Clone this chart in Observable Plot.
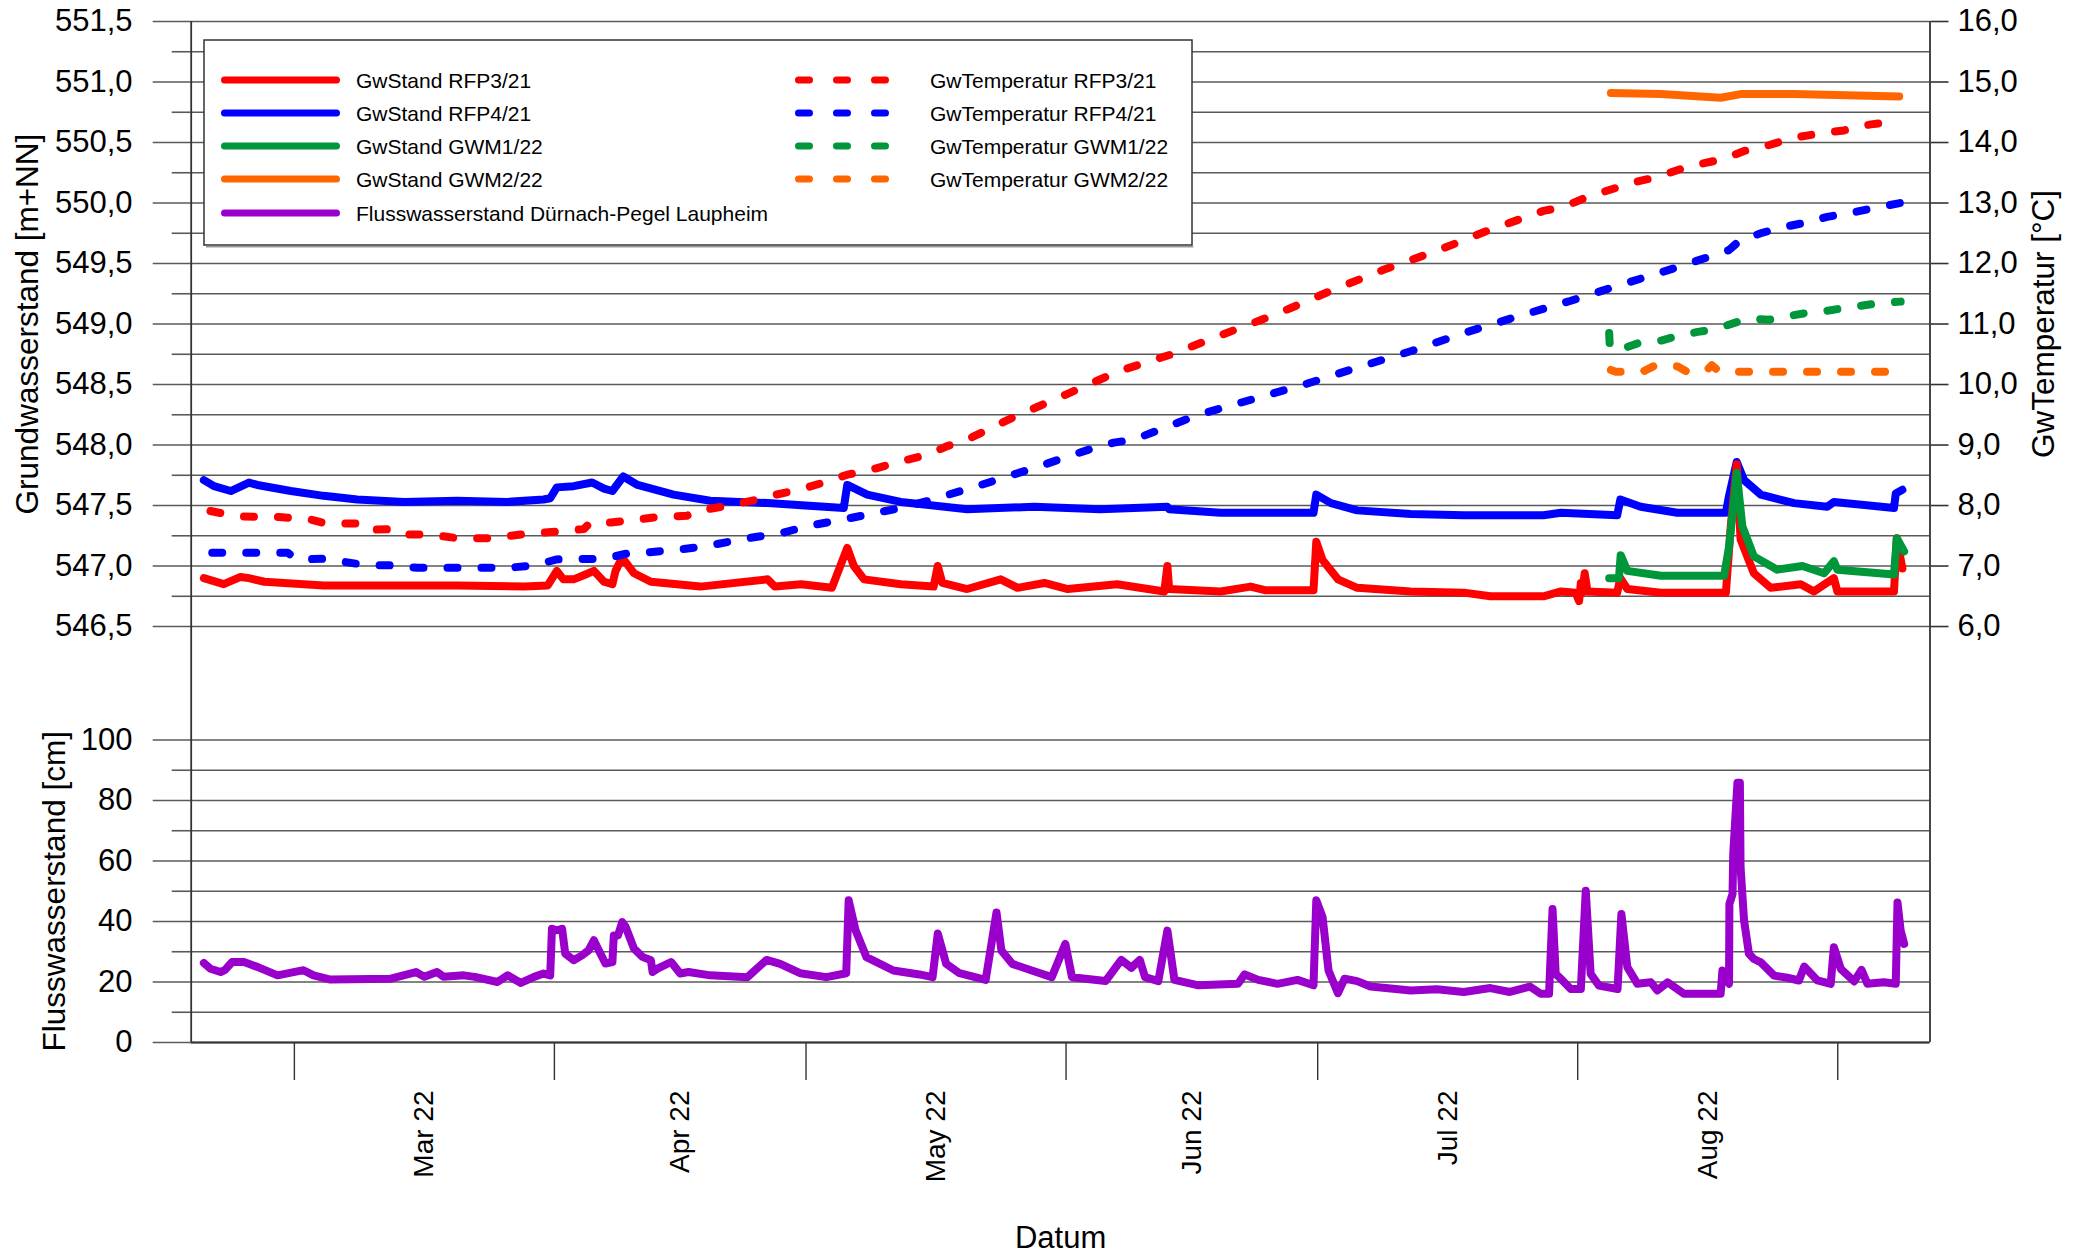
<!DOCTYPE html>
<html lang="de">
<head>
<meta charset="utf-8">
<script src="https://cdn.jsdelivr.net/npm/d3@7"></script>
<script src="https://cdn.jsdelivr.net/npm/@observablehq/plot@0.6"></script>
<style>
  html, body { margin: 0; padding: 0; background: #fff; }
  #wrap { position: relative; width: 2084px; height: 1257px; overflow: hidden; background: #fff;
          font-family: "Liberation Sans", Arial, Helvetica, sans-serif; }
  #chart { position: absolute; left: 0; top: 0; }
  #legend { position: absolute; left: 0; top: 0; pointer-events: none; }
</style>
</head>
<body>
<div id="wrap"><div id="chart"></div><svg id="legend" width="2084" height="1257"></svg></div>
<script>
// ================= DATA =================
// Groundwater level [m+NN] (left axis)  [date "MM-DDTHH" 2022 UTC, value]
const gwStandRFP3 = [
  ["02-18T05",546.90],["02-20T14",546.85],["02-22T14",546.91],["02-23T14",546.90],["02-25T10",546.87],
  ["03-04T12",546.84],["03-12T12",546.84],["03-20T10",546.84],["03-28T10",546.83],["03-31T05",546.84],
  ["04-01T07",546.96],["04-02T02",546.89],["04-03T07",546.89],["04-04T17",546.93],["04-05T17",546.96],
  ["04-06T22",546.87],["04-07T22",546.85],["04-08T07",546.96],["04-09T02",547.07],["04-10T12",546.94],
  ["04-12T12",546.87],["04-18T10",546.83],["04-26T10",546.89],["04-27T07",546.83],["04-30T10",546.85],
  ["05-04T02",546.82],["05-05T22",547.15],["05-06T17",547.00],["05-07T22",546.89],["05-12T07",546.85],
  ["05-16T05",546.83],["05-16T17",547.00],["05-17T06",546.86],["05-20T05",546.81],["05-24T05",546.89],
  ["05-26T05",546.82],["05-29T10",546.86],["06-01T05",546.81],["06-07T02",546.85],["06-12T17",546.79],
  ["06-13T02",547.00],["06-13T07",546.81],["06-19T10",546.79],["06-23T00",546.83],["06-24T17",546.80],
  ["06-30T12",546.80],["06-30T20",547.20],["07-01T14",547.05],["07-03T10",546.89],["07-05T17",546.82],
  ["07-12T02",546.79],["07-18T10",546.78],["07-21T14",546.75],["07-27T22",546.75],["07-30T00",546.79],
  ["07-31T18",546.78],["08-01T04",546.71],["08-01T09",546.86],["08-01T13",546.78],["08-01T20",546.94],
  ["08-02T04",546.79],["08-05T17",546.78],["08-06T02",546.90],["08-06T22",546.81],["08-10T22",546.78],
  ["08-18T16",546.78],["08-19T06",547.33],["08-19T23",547.84],["08-20T10",547.22],["08-22T00",546.94],
  ["08-24T00",546.82],["08-27T14",546.85],["08-29T04",546.79],["08-31T13",546.90],["08-31T23",546.79],
  ["09-07T17",546.79],["09-08T01",547.23],["09-08T17",546.98]
];
const gwStandRFP4 = [
  ["02-18T05",547.71],["02-19T10",547.66],["02-21T10",547.62],["02-23T14",547.69],["02-24T14",547.67],
  ["02-28T14",547.62],["03-04T12",547.58],["03-08T12",547.55],["03-14T02",547.53],["03-20T10",547.54],
  ["03-26T10",547.53],["03-30T17",547.55],["03-31T12",547.56],["04-01T07",547.65],["04-03T07",547.66],
  ["04-05T12",547.69],["04-06T22",547.64],["04-07T22",547.62],["04-09T05",547.74],["04-10T22",547.67],
  ["04-15T05",547.59],["04-19T14",547.54],["04-26T10",547.52],["05-05T12",547.48],["05-05T22",547.67],
  ["05-08T07",547.59],["05-12T07",547.53],["05-20T05",547.47],["05-28T05",547.49],["06-05T02",547.47],
  ["06-13T02",547.49],["06-13T07",547.47],["06-19T10",547.44],["06-30T12",547.44],["06-30T20",547.59],
  ["07-02T14",547.52],["07-05T17",547.46],["07-12T02",547.43],["07-18T10",547.42],["07-27T22",547.42],
  ["07-30T00",547.44],["08-05T17",547.42],["08-06T02",547.55],["08-08T12",547.49],["08-12T21",547.44],
  ["08-18T16",547.44],["08-19T01",547.58],["08-19T23",547.86],["08-20T20",547.71],["08-22T20",547.59],
  ["08-26T19",547.52],["08-30T18",547.49],["08-31T13",547.53],["09-07T17",547.48],["09-07T22",547.60],
  ["09-08T17",547.63]
];
const gwStandGWM1 = [
  ["08-04T18",546.90],["08-05T22",546.90],["08-06T03",547.09],["08-06T22",546.96],["08-10T22",546.92],
  ["08-18T11",546.92],["08-19T01",547.16],["08-19T23",547.77],["08-20T15",547.33],["08-22T00",547.08],
  ["08-24T19",546.97],["08-27T19",547.00],["08-30T09",546.94],["08-31T13",547.04],["08-31T23",546.97],
  ["09-07T17",546.93],["09-08T01",547.23],["09-08T22",547.12]
];
const gwStandGWM2 = [
  ["08-04T23",550.91],["08-10T22",550.90],["08-18T01",550.87],["08-20T10",550.90],["08-26T19",550.90],
  ["09-08T08",550.88]
];

// Groundwater temperature [°C] (right axis)
const gwTempRFP3 = [
  ["02-19T00",7.91],["02-22T05",7.82],["02-27T05",7.81],["03-02T22",7.77],["03-04T12",7.71],
  ["03-09T07",7.70],["03-10T00",7.60],["03-12T22",7.61],["03-14T02",7.52],["03-17T05",7.52],
  ["03-20T10",7.46],["03-24T10",7.46],["03-28T00",7.52],["04-01T07",7.57],["04-04T12",7.61],
  ["04-05T07",7.72],["04-07T17",7.72],["04-10T22",7.77],["04-13T07",7.81],["04-16T19",7.83],
  ["04-18T00",7.91],["04-21T10",7.99],["04-25T05",8.10],["04-27T10",8.18],["04-30T10",8.27],
  ["05-03T02",8.38],["05-05T22",8.51],["05-08T17",8.59],["05-12T07",8.73],["05-15T12",8.84],
  ["05-17T19",8.98],["05-20T05",9.09],["05-25T14",9.45],["05-31T22",9.83],["06-07T07",10.22],
  ["06-13T14",10.50],["06-19T22",10.84],["06-26T05",11.17],["07-02T14",11.55],["07-08T22",11.90],
  ["07-15T05",12.21],["07-21T14",12.56],["07-27T22",12.87],["07-30T09",12.94],["08-02T04",13.10],
  ["08-05T08",13.24],["08-07T22",13.35],["08-10T12",13.43],["08-14T02",13.60],["08-18T11",13.73],
  ["08-20T20",13.86],["08-23T15",13.95],["08-26T19",14.08],["08-30T09",14.16],["09-01T18",14.20],
  ["09-03T08",14.26],["09-04T23",14.30],["09-08T11",14.36]
];
const gwTempRFP4 = [
  ["02-19T05",7.22],["02-23T19",7.22],["02-28T05",7.22],["03-01T07",7.11],["03-04T12",7.12],
  ["03-09T07",7.02],["03-12T22",7.01],["03-15T17",6.97],["03-26T10",6.97],["03-29T14",7.01],
  ["04-01T07",7.11],["04-06T22",7.12],["04-10T02",7.22],["04-11T17",7.22],["04-15T17",7.27],
  ["04-19T05",7.33],["04-23T05",7.44],["04-28T05",7.55],["05-01T05",7.66],["05-03T12",7.72],
  ["05-05T12",7.77],["05-08T07",7.85],["05-12T07",7.96],["05-16T05",8.10],["05-18T00",8.18],
  ["05-21T10",8.32],["05-25T00",8.48],["05-28T05",8.62],["06-01T05",8.81],["06-04T07",8.95],
  ["06-06T17",9.04],["06-09T02",9.09],["06-16T19",9.50],["06-23T02",9.75],["06-29T10",10.00],
  ["07-05T17",10.28],["07-12T02",10.55],["07-18T10",10.85],["07-24T17",11.12],["07-31T02",11.38],
  ["08-06T10",11.66],["08-12T17",11.93],["08-19T00",12.22],["08-20T10",12.39],["08-22T20",12.50],
  ["08-24T19",12.58],["08-27T14",12.66],["08-30T18",12.77],["09-02T23",12.85],["09-06T03",12.94],
  ["09-08T12",13.00]
];
const gwTempGWM1 = [
  ["08-04T18",10.85],["08-04T20",10.60],["08-05T22",10.57],["08-08T03",10.68],["08-10T12",10.71],
  ["08-12T21",10.80],["08-15T07",10.87],["08-17T06",10.91],["08-18T20",10.98],["08-21T06",11.09],
  ["08-23T19",11.07],["08-25T05",11.11],["08-28T04",11.18],["08-30T18",11.22],["09-02T13",11.28],
  ["09-05T18",11.34],["09-08T12",11.37]
];
const gwTempGWM2 = [
  ["08-04T23",10.24],["08-05T13",10.21],["08-08T17",10.21],["08-10T07",10.32],["08-12T21",10.30],
  ["08-13T22",10.22],["08-16T06",10.22],["08-17T00",10.32],["08-17T20",10.22],["08-19T11",10.21],
  ["09-08T08",10.21]
];

// River level [cm] (lower panel)
const flussDuernach = [
  ["02-18T05",26.3],["02-19T00",24.4],["02-20T05",23.3],["02-20T17",23.9],["02-21T14",26.6],["02-23T00",26.6],
  ["02-24T14",25.0],["02-27T00",22.2],["03-02T02",23.9],["03-03T07",22.2],["03-05T07",20.8],["03-12T12",21.1],
  ["03-15T12",23.3],["03-16T12",21.7],["03-18T00",23.3],["03-18T19",21.7],["03-21T05",22.2],["03-22T12",21.7],
  ["03-25T05",20.0],["03-26T10",22.2],["03-28T00",19.7],["03-29T14",21.7],["03-30T17",22.8],["03-31T12",22.2],
  ["03-31T17",37.6],["04-01T07",37.1],["04-01T22",37.6],["04-02T07",29.4],["04-03T07",27.2],["04-04T07",28.8],
  ["04-05T02",30.5],["04-05T17",33.8],["04-06T07",30.5],["04-07T02",26.1],["04-07T22",26.6],["04-08T02",35.4],
  ["04-08T14",35.4],["04-09T02",39.8],["04-09T12",38.2],["04-10T12",31.0],["04-11T12",28.3],["04-12T12",27.2],
  ["04-12T17",23.3],["04-13T07",24.4],["04-14T22",26.6],["04-16T00",22.8],["04-17T00",23.3],["04-19T14",22.2],
  ["04-24T00",21.6],["04-26T07",27.3],["04-27T22",26.0],["04-30T07",22.9],["05-03T10",21.6],["05-05T19",22.9],
  ["05-06T02",47.0],["05-06T22",37.0],["05-08T05",28.2],["05-11T10",23.8],["05-14T12",22.5],["05-16T02",21.6],
  ["05-16T17",36.0],["05-17T17",26.0],["05-19T07",22.9],["05-22T10",20.7],["05-23T17",43.0],["05-24T07",30.4],
  ["05-25T14",26.0],["05-27T22",23.8],["05-30T07",21.6],["05-31T22",32.6],["06-01T17",21.6],["06-05T17",20.3],
  ["06-07T14",27.3],["06-08T19",24.7],["06-09T19",27.3],["06-10T10",21.6],["06-12T00",20.3],["06-13T02",37.0],
  ["06-13T22",20.7],["06-16T19",18.9],["06-21T12",19.4],["06-22T07",22.5],["06-23T22",20.7],["06-26T05",19.4],
  ["06-28T14",20.7],["06-30T12",18.9],["06-30T20",47.0],["07-01T14",41.4],["07-02T07",23.8],["07-03T10",16.3],
  ["07-04T05",21.1],["07-05T17",20.3],["07-07T07",18.5],["07-12T02",17.2],["07-15T05",17.6],["07-18T10",16.7],
  ["07-21T14",18.0],["07-23T22",16.7],["07-26T07",18.5],["07-27T14",16.1],["07-28T14",16.1],["07-29T00",44.1],
  ["07-29T09",22.7],["07-30T00",21.0],["07-31T04",17.7],["08-01T09",17.7],["08-01T23",50.2],["08-02T13",22.7],
  ["08-03T13",18.8],["08-05T18",17.7],["08-06T05",42.5],["08-06T22",24.9],["08-08T03",19.4],["08-09T17",19.9],
  ["08-10T12",17.2],["08-11T17",19.9],["08-13T16",16.1],["08-16T11",16.1],["08-18T01",16.1],["08-18T06",23.8],
  ["08-19T01",19.4],["08-19T02",45.8],["08-19T11",49.1],["08-19T13",62.3],["08-20T01",85.9],["08-20T08",85.9],
  ["08-20T10",57.9],["08-20T20",40.3],["08-21T10",29.3],["08-22T00",27.6],["08-22T20",26.5],["08-24T10",22.1],
  ["08-26T00",21.4],["08-27T09",20.5],["08-28T00",25.1],["08-29T14",20.5],["08-31T04",19.4],["08-31T13",31.5],
  ["09-01T09",24.3],["09-02T23",20.2],["09-03T20",24.0],["09-04T13",19.4],["09-06T12",19.9],["09-07T22",19.4],
  ["09-08T03",46.3],["09-08T12",37.0],["09-08T22",32.6]
];

// Axis ticks / labels
const standTicks = [546.5, 547.0, 547.5, 548.0, 548.5, 549.0, 549.5, 550.0, 550.5, 551.0, 551.5];
const standMinorTicks = [546.75, 547.25, 547.75, 548.25, 548.75, 549.25, 549.75, 550.25, 550.75, 551.25];
const tempTicks = [6, 7, 8, 9, 10, 11, 12, 13, 14, 15, 16];
const riverTicks = [0, 20, 40, 60, 80, 100];
const riverMinorTicks = [10, 30, 50, 70, 90];
const monthStarts = ["03-01T00", "04-01T00", "05-01T00", "06-01T00", "07-01T00", "08-01T00", "09-01T00"];
const monthMids = ["03-16T12", "04-16T00", "05-16T12", "06-16T00", "07-16T12", "08-16T12"];
const monthLabels = ["Mar 22", "Apr 22", "May 22", "Jun 22", "Jul 22", "Aug 22"];

// Series names & colours
const standSeries = [
  {name: "GwStand RFP3/21", color: "#FF0000", data: gwStandRFP3},
  {name: "GwStand RFP4/21", color: "#0000FF", data: gwStandRFP4},
  {name: "GwStand GWM1/22", color: "#00963A", data: gwStandGWM1},
  {name: "GwStand GWM2/22", color: "#FF6600", data: gwStandGWM2}
];
const riverSeries = {name: "Flusswasserstand Dürnach-Pegel Laupheim", color: "#9900CC", data: flussDuernach};
const tempSeries = [
  {name: "GwTemperatur RFP3/21", color: "#FF0000", data: gwTempRFP3},
  {name: "GwTemperatur RFP4/21", color: "#0000FF", data: gwTempRFP4},
  {name: "GwTemperatur GWM1/22", color: "#00963A", data: gwTempGWM1},
  {name: "GwTemperatur GWM2/22", color: "#FF6600", data: gwTempGWM2}
];

// ================= CHART =================
const parseT = s => new Date(`2022-${s}:00:00Z`);
const fmt1 = v => v.toFixed(1).replace(".", ",");

// common vertical unit: one grid interval = 1 unit
const U_LOW_TOP = 10, U_GAP = 3.75;
const uS = m => U_LOW_TOP + U_GAP + (m - 546.5) * 4;      // level [m+NN]
const uT = t => U_LOW_TOP + U_GAP + (t - 6) * 2;          // temperature
const uR = c => c / 10;                                   // river [cm]
const mFromU = u => 546.5 + (u - U_LOW_TOP - U_GAP) / 4;
const tFromU = u => 6 + (u - U_LOW_TOP - U_GAP) / 2;
const cFromU = u => u * 10;
const U_TOP = uS(551.5);

const X0 = new Date("2022-02-16T16:48:00Z"), X1 = new Date("2022-09-12T00:00:00Z");
const GRID = "#5a5a5a", AXIS = "#333";
const FONT = '"Liberation Sans", Arial, sans-serif';
const labelByTime = new Map(monthMids.map((s, i) => [+parseT(s), monthLabels[i]]));

const gridU = [...standTicks, ...standMinorTicks].map(uS).concat([...riverTicks, ...riverMinorTicks].map(uR));

const chart = Plot.plot({
  width: 2084, height: 1257,
  marginLeft: 190.7, marginRight: 154.5, marginTop: 21, marginBottom: 215,
  style: {fontFamily: FONT, fontSize: "31px", color: "#000", background: "transparent", overflow: "visible"},
  x: {type: "utc", domain: [X0, X1]},
  y: {domain: [0, U_TOP]},
  marks: [
    Plot.gridY(gridU, {stroke: GRID, strokeOpacity: 1, strokeWidth: 1.6}),
    Plot.axisY(standTicks.map(uS), {anchor: "left", tickSize: 38, tickPadding: 20.7, tickFormat: u => fmt1(mFromU(u)), stroke: GRID, strokeWidth: 1.6, label: null}),
    Plot.axisY(standMinorTicks.map(uS), {anchor: "left", tickSize: 19, tickFormat: () => "", stroke: GRID, strokeWidth: 1.6, label: null}),
    Plot.axisY(riverTicks.map(uR), {anchor: "left", tickSize: 38, tickPadding: 20.7, tickFormat: u => String(Math.round(cFromU(u))), stroke: GRID, strokeWidth: 1.6, label: null}),
    Plot.axisY(riverMinorTicks.map(uR), {anchor: "left", tickSize: 19, tickFormat: () => "", stroke: GRID, strokeWidth: 1.6, label: null}),
    Plot.axisY(tempTicks.map(uT), {anchor: "right", tickSize: 18, tickPadding: 9.5, tickFormat: u => fmt1(tFromU(u)), stroke: AXIS, strokeWidth: 1.6, label: null}),
    Plot.ruleX([X0, X1], {stroke: AXIS, strokeWidth: 1.8}),
    Plot.ruleY([0], {stroke: AXIS, strokeWidth: 2.2}),
    Plot.axisX(monthStarts.map(parseT), {tickSize: 38, tickFormat: () => "", stroke: AXIS, strokeWidth: 1.4, label: null}),
    Plot.axisX(monthMids.map(parseT), {tickSize: 0, tickPadding: 48, tickRotate: -90, textAnchor: "end", fontSize: 28, tickFormat: d => labelByTime.get(+d), label: null}),
    // river level
    Plot.line(riverSeries.data, {x: d => parseT(d[0]), y: d => uR(d[1]), stroke: riverSeries.color, strokeWidth: 8}),
    // levels
    ...[1, 0, 2, 3].map(i => Plot.line(standSeries[i].data, {x: d => parseT(d[0]), y: d => uS(d[1]), stroke: standSeries[i].color, strokeWidth: 8})),
    // temperatures
    ...tempSeries.map(s => Plot.line(s.data, {x: d => parseT(d[0]), y: d => uT(d[1]), stroke: s.color, strokeWidth: 8, strokeDasharray: "10,24", strokeLinecap: "round"})),
    // axis titles
    Plot.text([{t: "Grundwasserstand [m+NN]", u: (uS(546.5) + uS(551.5)) / 2}], {text: "t", y: "u", frameAnchor: "left", textAnchor: "middle", lineAnchor: "middle", dx: -163, rotate: -90, fontSize: 31.5}),
    Plot.text([{t: "Flusswasserstand [cm]", u: (uR(0) + uR(100)) / 2}], {text: "t", y: "u", frameAnchor: "left", textAnchor: "middle", lineAnchor: "middle", dx: -136, rotate: -90, fontSize: 31.5}),
    Plot.text([{t: "GwTemperatur [°C]", u: (uT(6) + uT(16)) / 2}], {text: "t", y: "u", frameAnchor: "right", textAnchor: "middle", lineAnchor: "middle", dx: 113.5, rotate: -90, fontSize: 31.5}),
    Plot.text(["Datum"], {frameAnchor: "bottom", lineAnchor: "middle", dy: 196, fontSize: 31})
  ]
});
document.getElementById("chart").appendChild(chart);

// ================= LEGEND =================
const NS = "http://www.w3.org/2000/svg";
const lg = document.getElementById("legend");
const el = (tag, attrs, txt) => { const e = document.createElementNS(NS, tag); for (const k in attrs) e.setAttribute(k, attrs[k]); if (txt != null) e.textContent = txt; lg.appendChild(e); return e; };
el("line", {x1: 206, y1: 246.8, x2: 1193.5, y2: 246.8, stroke: "#9a9a9a", "stroke-width": 1.5});
el("rect", {x: 204, y: 40, width: 988, height: 205, fill: "#fff", stroke: "#333", "stroke-width": 1.5});
const rowsY = [80, 113, 146, 179, 213];
const leftItems = [...standSeries, riverSeries];
leftItems.forEach((s, i) => {
  el("line", {x1: 224.5, x2: 336.5, y1: rowsY[i], y2: rowsY[i], stroke: s.color, "stroke-width": 7, "stroke-linecap": "round"});
  el("text", {x: 356, y: rowsY[i] + 7.5, "font-size": 21, "font-family": FONT, fill: "#000"}, s.name);
});
tempSeries.forEach((s, i) => {
  el("line", {x1: 798.5, x2: 885.5, y1: rowsY[i], y2: rowsY[i], stroke: s.color, "stroke-width": 7, "stroke-linecap": "round", "stroke-dasharray": "11,27"});
  el("text", {x: 930, y: rowsY[i] + 7.5, "font-size": 21, "font-family": FONT, fill: "#000"}, s.name);
});
</script>
</body>
</html>
